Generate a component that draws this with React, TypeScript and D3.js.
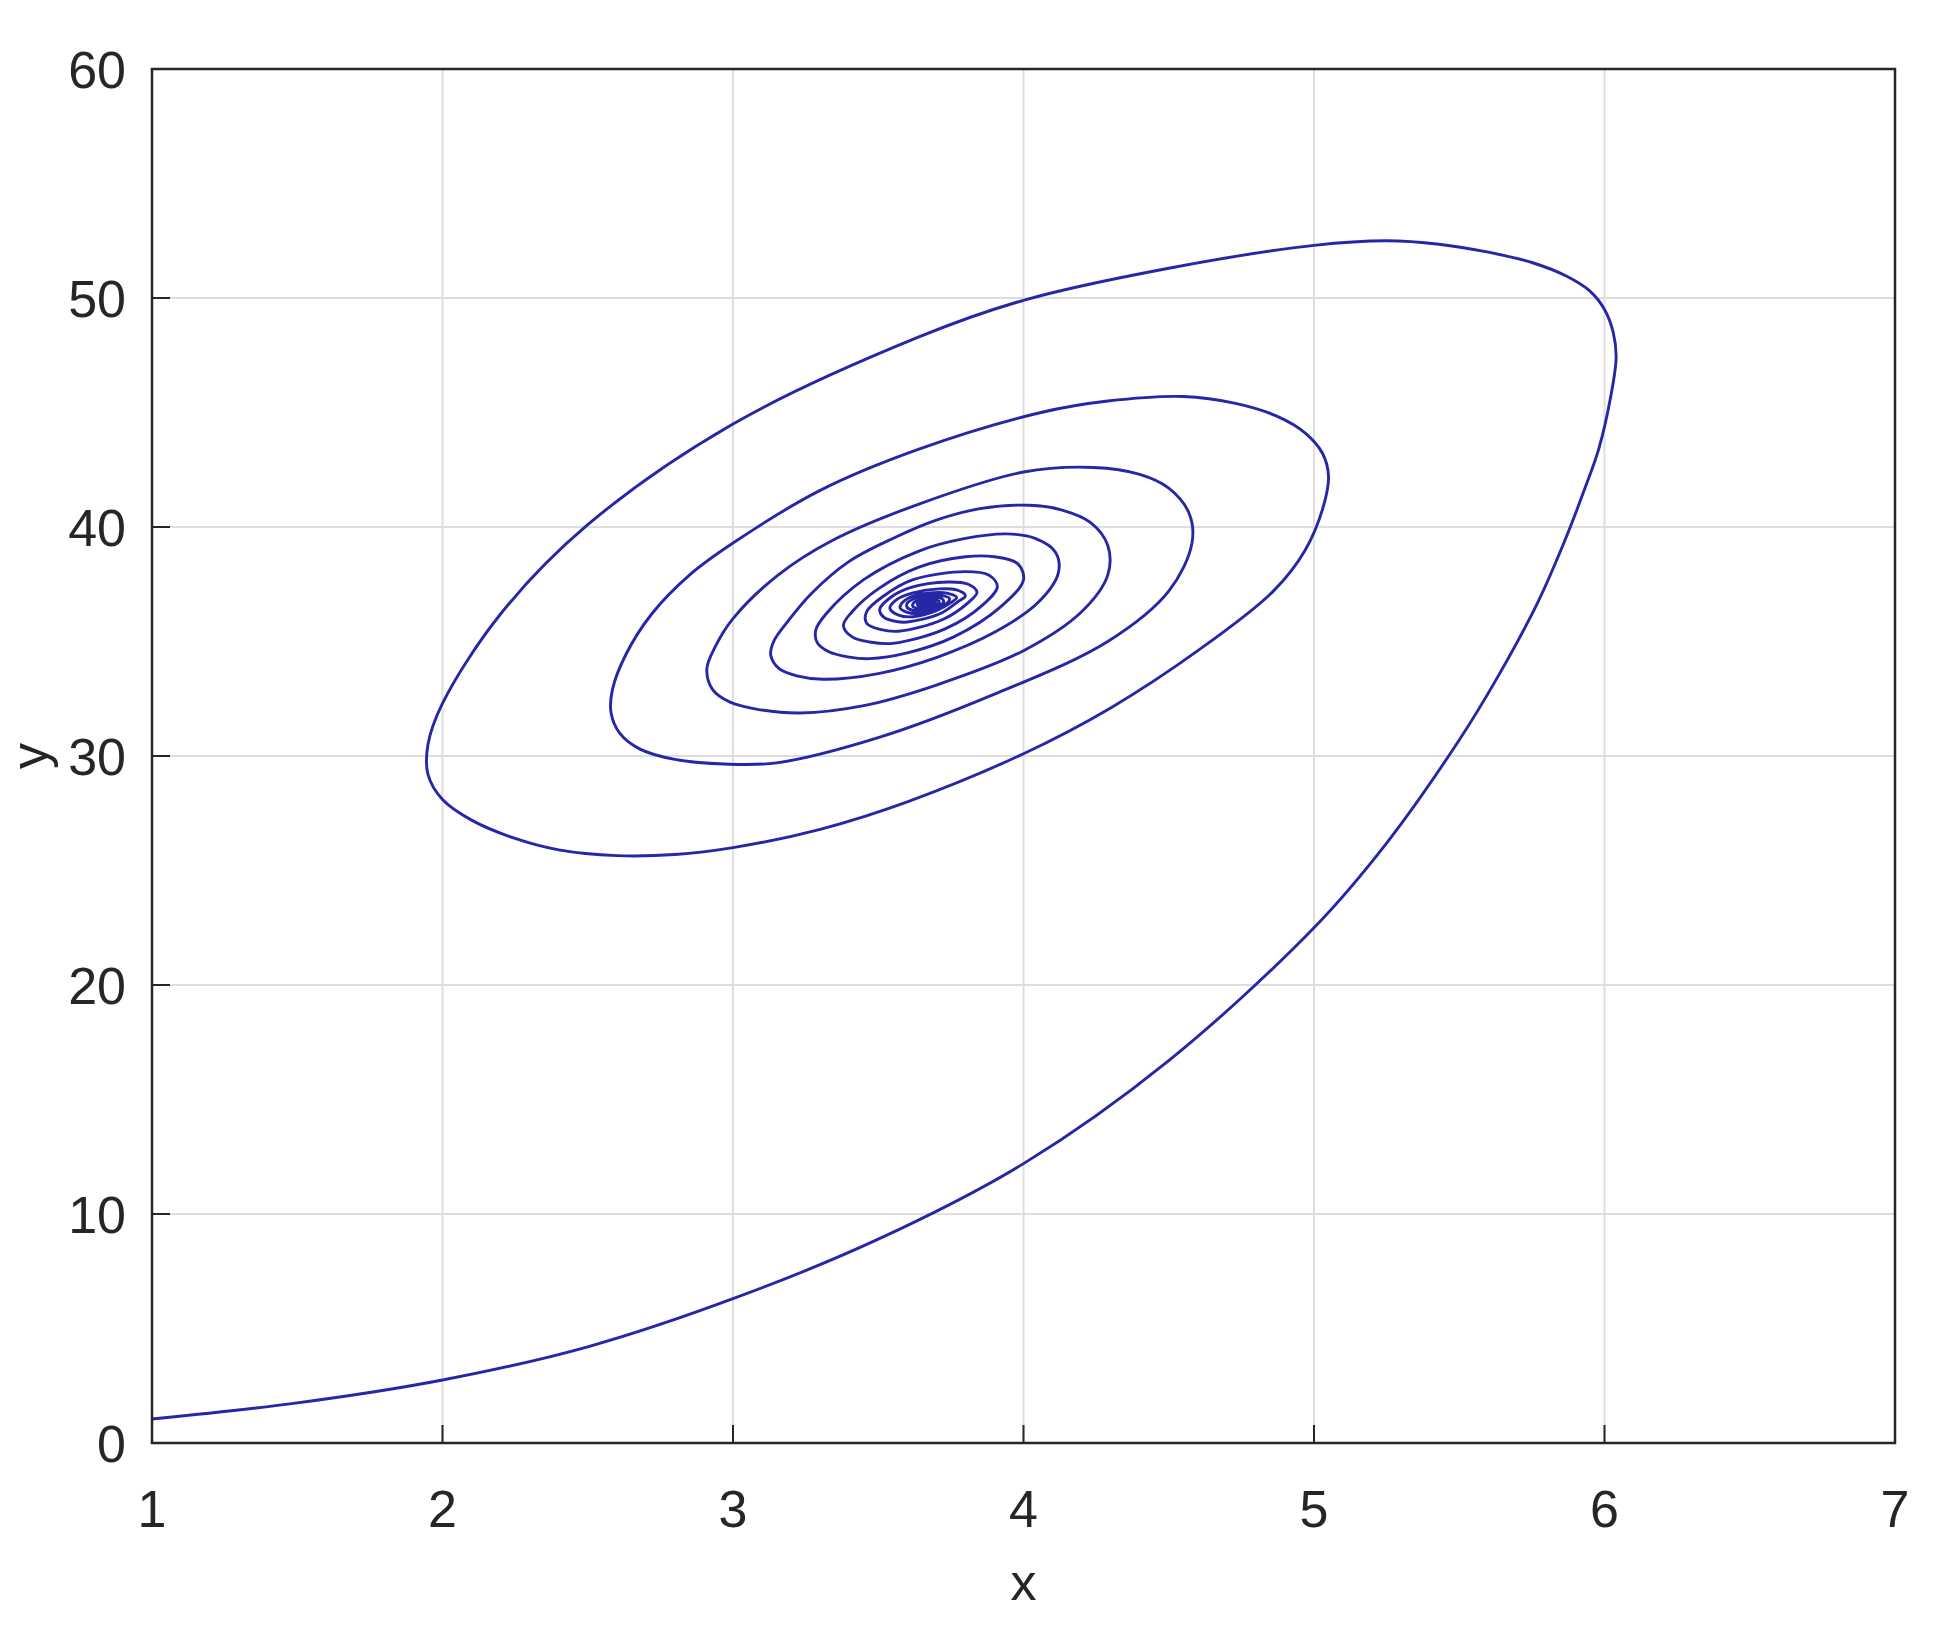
import React from 'react';
import * as d3 from 'd3';

// tick values
const xTicks = [1, 2, 3, 4, 5, 6, 7];
const yTicks = [0, 10, 20, 30, 40, 50, 60];

// trajectory, split by turn
const approach: [number, number][] = [
  [1.0, 1.05], [1.5, 1.75], [2.0, 2.75], [2.5, 4.2], [3.0, 6.3], [3.5, 8.9], [4.0, 12.2],
  [4.5, 16.7], [5.0, 22.5], [5.25, 26.2], [5.5, 30.7], [5.63, 33.4], [5.77, 36.7],
  [5.86, 39.3], [5.93, 41.6], [5.98, 43.4], [6.02, 45.6], [6.04, 47.4], [6.03, 48.5],
  [6.0, 49.5], [5.95, 50.3], [5.87, 50.95], [5.75, 51.55], [5.6, 52.0], [5.43, 52.35], [5.25, 52.5],
];
const loop1: [number, number][] = [
  [5.0, 52.3], [4.5, 51.3], [4.0, 49.9], [3.64, 48.3], [3.0, 44.5], [2.5, 40.1], [2.2, 36.2],
  [2.0, 32.3], [1.95, 30.5], [1.95, 29.2], [2.0, 28.1], [2.1, 27.2], [2.25, 26.4], [2.4, 25.9],
  [2.6, 25.65], [2.8, 25.7], [3.0, 26.0], [3.3, 26.8], [3.6, 28.0], [4.0, 30.1], [4.3, 32.1],
  [4.6, 34.6], [4.86, 37.2], [4.97, 39.0], [5.03, 40.8], [5.05, 42.2], [5.03, 43.2],
  [4.97, 44.1], [4.87, 44.85], [4.73, 45.4], [4.55, 45.7], [4.29, 45.5], [4.06, 45.0],
];
const loop2: [number, number][] = [
  [3.64, 43.4], [3.3, 41.6], [3.0, 39.3], [2.85, 37.9], [2.72, 36.2], [2.63, 34.4], [2.585, 32.9],
  [2.58, 31.9], [2.61, 31.0], [2.68, 30.3], [2.8, 29.85], [2.97, 29.65], [3.15, 29.7], [3.5, 30.8],
  [3.9, 32.7], [4.29, 35.0], [4.5, 37.2], [4.58, 39.3], [4.57, 40.6], [4.5, 41.7], [4.4, 42.3],
  [4.24, 42.6], [4.0, 42.4],
];
const loop3: [number, number][] = [
  [3.64, 41.0], [3.34, 39.4], [3.155, 37.9], [3.0, 36.0], [2.94, 34.8], [2.91, 33.8], [2.93, 32.9],
  [2.99, 32.35], [3.08, 32.05], [3.23, 31.88], [3.45, 32.2], [3.7, 33.1], [4.0, 34.6], [4.2, 36.3],
  [4.29, 37.9], [4.29, 39.2], [4.23, 40.2], [4.13, 40.75], [4.02, 40.95],
];
const loop4: [number, number][] = [
  [3.85, 40.8], [3.7, 40.3], [3.55, 39.5], [3.4, 38.5], [3.27, 37.1], [3.19, 35.9], [3.14, 35.0],
  [3.13, 34.4], [3.16, 33.8], [3.22, 33.5], [3.31, 33.35], [3.5, 33.6], [3.7, 34.3], [3.9, 35.4],
  [4.05, 36.7], [4.12, 38.0], [4.11, 38.9], [4.04, 39.5], [3.94, 39.7],
];
const loop5: [number, number][] = [
  [3.8, 39.5], [3.64, 38.95], [3.45, 37.7], [3.32, 36.2], [3.285, 35.5], [3.29, 34.95], [3.33, 34.55],
  [3.4, 34.32], [3.47, 34.25], [3.6, 34.5], [3.76, 35.2], [3.92, 36.5], [4.0, 37.7], [3.98, 38.4],
  [3.9, 38.7], [3.8, 38.7],
];
const loop6: [number, number][] = [
  [3.64, 38.25], [3.5, 37.3], [3.41, 36.3], [3.38, 35.7], [3.41, 35.2], [3.47, 34.98], [3.55, 34.92],
  [3.73, 35.55], [3.86, 36.6], [3.91, 37.4], [3.88, 37.9], [3.8, 38.05],
];
const innerLoops: [number, number][] = [
  [3.62, 37.7], [3.52, 37.0], [3.46, 36.3], [3.46, 35.8], [3.51, 35.52], [3.57, 35.45], [3.72, 35.95],
  [3.81, 36.7], [3.84, 37.15], [3.81, 37.5], [3.74, 37.6],
  [3.61, 37.35], [3.54, 36.9], [3.505, 36.4], [3.52, 36.05], [3.56, 35.88], [3.6, 35.85], [3.71, 36.2],
  [3.77, 36.7], [3.8, 37.0], [3.77, 37.25], [3.71, 37.3],
];
const core: [number, number][] = [
  [3.62, 37.12], [3.56, 36.8], [3.54, 36.45], [3.57, 36.15], [3.62, 36.08], [3.7, 36.35], [3.75, 36.7],
  [3.77, 36.92], [3.74, 37.1], [3.69, 37.13],
  [3.62, 36.98], [3.585, 36.72], [3.575, 36.48], [3.6, 36.27], [3.64, 36.23], [3.7, 36.45],
  [3.74, 36.72], [3.745, 36.88], [3.72, 37.0], [3.68, 37.02],
  [3.63, 36.9], [3.6, 36.68], [3.6, 36.48], [3.62, 36.36], [3.65, 36.34], [3.7, 36.52], [3.725, 36.72],
  [3.72, 36.86], [3.69, 36.93],
  [3.645, 36.84], [3.62, 36.66], [3.62, 36.52], [3.64, 36.43], [3.67, 36.45], [3.7, 36.6], [3.71, 36.75],
  [3.69, 36.84], [3.665, 36.85],
  [3.64, 36.76], [3.635, 36.6], [3.65, 36.51], [3.675, 36.54], [3.695, 36.65], [3.695, 36.76],
  [3.675, 36.8], [3.655, 36.76], [3.645, 36.64], [3.655, 36.55], [3.675, 36.57], [3.69, 36.66],
  [3.688, 36.75], [3.672, 36.78], [3.657, 36.73], [3.652, 36.64], [3.662, 36.58], [3.678, 36.6],
  [3.684, 36.68], [3.676, 36.74], [3.664, 36.72], [3.66, 36.65], [3.668, 36.61], [3.677, 36.64],
  [3.676, 36.7], [3.668, 36.7], [3.666, 36.66], [3.672, 36.66],
];

const W = 1954;
const H = 1625;
const margin = { top: 69, right: 59, bottom: 182, left: 152 };
const font = '"Liberation Sans", Arial, sans-serif';
const ink = '#262626';

export default function App() {
  const x = d3.scaleLinear().domain([1, 7]).range([margin.left, W - margin.right]);
  const y = d3.scaleLinear().domain([0, 60]).range([H - margin.bottom, margin.top]);

  const pts = [...approach, ...loop1, ...loop2, ...loop3, ...loop4, ...loop5, ...loop6, ...innerLoops, ...core];
  const line = d3.line<[number, number]>()
    .x(d => x(d[0]))
    .y(d => y(d[1]))
    .curve(d3.curveCatmullRom.alpha(0.5));

  const x0 = x(1), x1 = x(7), y0 = y(0), y1 = y(60);
  const tickLen = 18;

  return (
    <svg width={W} height={H} style={{ position: 'absolute', left: 0, top: 0, background: '#fff' }}>
      <rect x={0} y={0} width={W} height={H} fill="#fff" />
      {/* grid */}
      <g stroke="#dedede" strokeWidth={2}>
        {xTicks.slice(1, -1).map(t => (
          <line key={'gx' + t} x1={x(t)} x2={x(t)} y1={y1} y2={y0} />
        ))}
        {yTicks.slice(1, -1).map(t => (
          <line key={'gy' + t} x1={x0} x2={x1} y1={y(t)} y2={y(t)} />
        ))}
      </g>
      <path d={line(pts) || ''} fill="none" stroke="#2626a6" strokeWidth={2.9} strokeLinejoin="round" />
      {/* ticks */}
      <g stroke={ink} strokeWidth={2}>
        {xTicks.map(t => (
          <line key={'tx' + t} x1={x(t)} x2={x(t)} y1={y0} y2={y0 - tickLen} />
        ))}
        {yTicks.map(t => (
          <line key={'ty' + t} x1={x0} x2={x0 + tickLen} y1={y(t)} y2={y(t)} />
        ))}
      </g>
      <rect x={x0} y={y1} width={x1 - x0} height={y0 - y1} fill="none" stroke={ink} strokeWidth={2.5} />
      <g fontFamily={font} fontSize={52} fill={ink}>
        {xTicks.map(t => (
          <text key={'lx' + t} x={x(t)} y={y0 + 84} textAnchor="middle">{t}</text>
        ))}
        {yTicks.map(t => (
          <text key={'ly' + t} x={x0 - 26} y={y(t) + 19} textAnchor="end">{t}</text>
        ))}
        <text x={(x0 + x1) / 2} y={1600} textAnchor="middle">x</text>
        <text transform={`translate(47,${(y0 + y1) / 2}) rotate(-90)`} textAnchor="middle">y</text>
      </g>
    </svg>
  );
}
